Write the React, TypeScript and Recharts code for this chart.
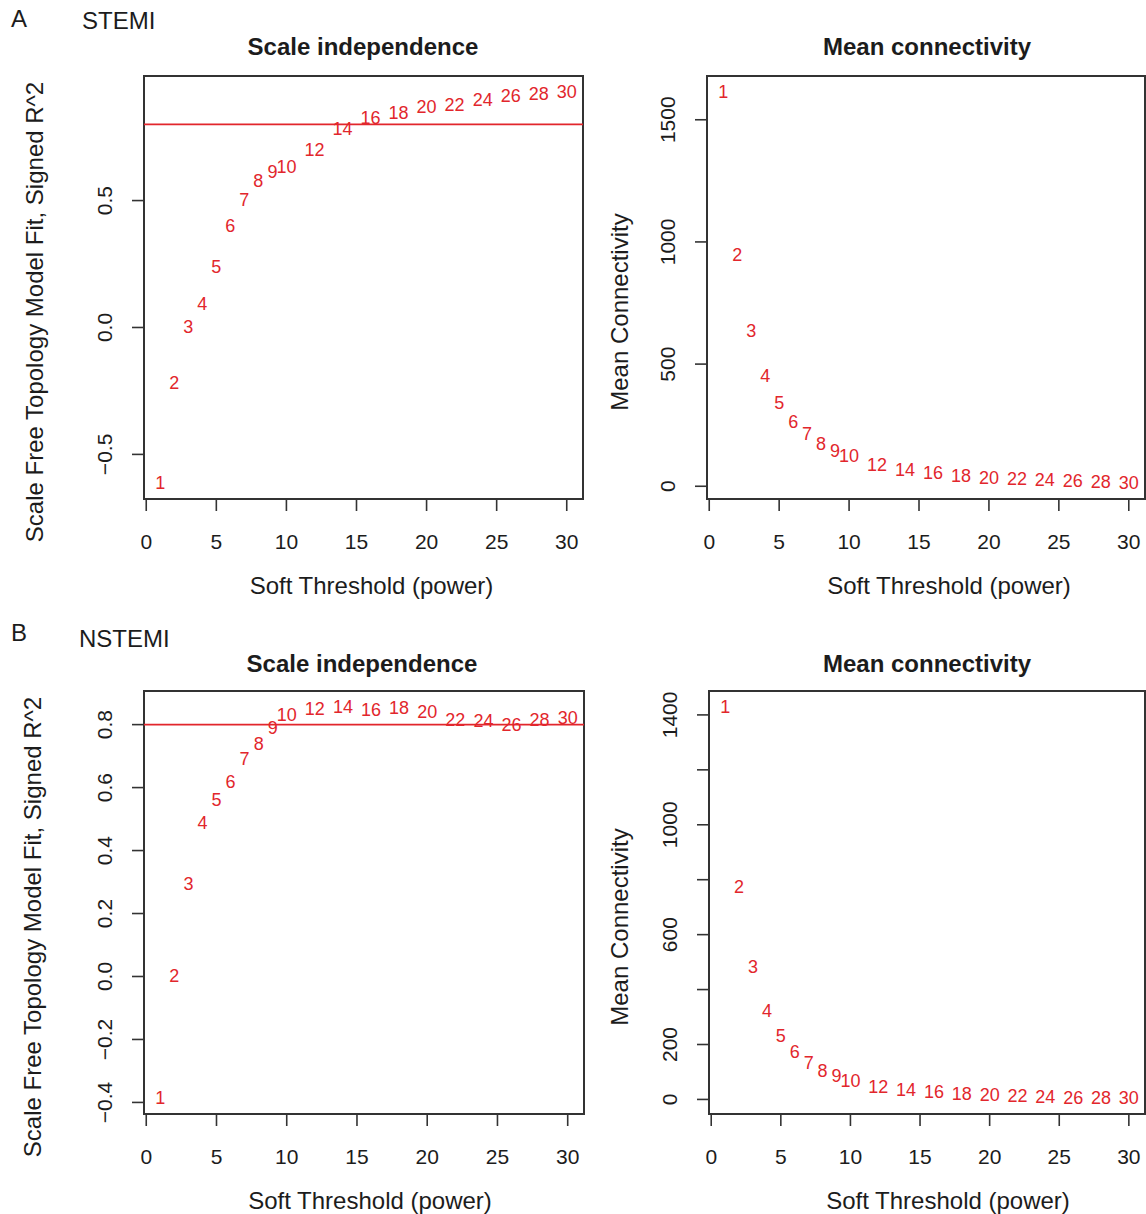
import React from 'react';
import { ScatterChart, Scatter, XAxis, YAxis, ReferenceLine, ReferenceArea } from 'recharts';

// ---------- data ----------
const powers = [1, 2, 3, 4, 5, 6, 7, 8, 9, 10, 12, 14, 16, 18, 20, 22, 24, 26, 28, 30];
const stemiScaleFit = [-0.614, -0.217, 0.0, 0.094, 0.24, 0.398, 0.504, 0.579, 0.614, 0.634, 0.7, 0.783, 0.827, 0.843, 0.87, 0.878, 0.898, 0.913, 0.921, 0.929];
const stemiMeanK = [1615, 948, 634, 450, 339, 262, 213, 172, 143, 123, 86, 65, 53, 41, 33, 29, 25, 20, 16, 12];
const nstemiScaleFit = [-0.387, 0.0, 0.295, 0.489, 0.562, 0.619, 0.692, 0.737, 0.79, 0.832, 0.851, 0.857, 0.848, 0.854, 0.841, 0.816, 0.813, 0.8, 0.816, 0.822];
const nstemiMeanK = [1430, 773, 482, 323, 232, 171, 132, 104, 84, 68, 47, 34, 28, 19, 16, 11, 10, 5, 4, 4];

const xTicks = [0, 5, 10, 15, 20, 25, 30];
const stemiFitTicks = [-0.5, 0, 0.5];
const stemiKTicks = [0, 500, 1000, 1500];
const nstemiFitTicks = [-0.4, -0.2, 0, 0.2, 0.4, 0.6, 0.8];
const nstemiKTicks = [0, 200, 400, 600, 800, 1000, 1200, 1400];
const nstemiKLabeled = [0, 200, 600, 1000, 1400];
const r2Cutoff = 0.8;

const xTitle = 'Soft Threshold (power)';
const fitTitle = 'Scale Free Topology Model Fit,  Signed R^2';
const kTitle = 'Mean Connectivity';

// ---------- style ----------
const RED = '#e2262c';
const INK = '#1c1c1c';
const FRAME = '#333333';
const FONT = '"Liberation Sans", Arial, Helvetica, sans-serif';

// R-style 4% axis extension
function rRange(v: number[]): [number, number] {
  const mn = Math.min(...v);
  const mx = Math.max(...v);
  const e = (mx - mn) * 0.04;
  return [mn - e, mx + e];
}
const xDomain = rRange(powers);

const fmtDec = (v: number) => (v < 0 ? '\u2212' : '') + Math.abs(v).toFixed(1);
const fmtInt = (v: number) => String(v);

const LabelDot = (props: any) => {
  const { cx, cy, payload } = props;
  if (cx == null || cy == null) return <g />;
  return (
    <text x={cx} y={cy} textAnchor="middle" dominantBaseline="central" fontSize={18} fill={RED} fontFamily={FONT}>
      {payload.power}
    </text>
  );
};

const XTick = (props: any) => {
  const { x, y, payload } = props;
  return (
    <text x={x} y={y} textAnchor="middle" dominantBaseline="central" fontSize={21} fill={INK} fontFamily={FONT}>
      {payload.value}
    </text>
  );
};

function makeYTick(fmt: (v: number) => string, shown?: number[]) {
  return (props: any) => {
    const { x, y, payload } = props;
    const v = payload.value;
    if (shown && !shown.includes(v)) return <g />;
    return (
      <text
        x={x}
        y={y}
        transform={`rotate(-90 ${x} ${y})`}
        textAnchor="middle"
        dominantBaseline="central"
        fontSize={21}
        fill={INK}
        fontFamily={FONT}
      >
        {fmt(v)}
      </text>
    );
  };
}

type Box = { left: number; top: number; right: number; bottom: number };
type PanelProps = {
  left: number;
  top: number;
  width: number;
  height: number;
  box: Box;
  values: number[];
  yTicks: number[];
  yShown?: number[];
  fmt: (v: number) => string;
  cutoff?: number;
  yTitle: string;
  yTitleX: number; // offset from chart left
  yTitleDY: number; // offset from plot centre
  xTitleDX: number; // offset from plot centre
};

function Panel(p: PanelProps) {
  const rows = powers.map((pw, i) => ({ power: pw, value: p.values[i] }));
  const yDomain = rRange(p.values);
  const mTop = p.box.top - p.top;
  const mRight = p.left + p.width - p.box.right;
  const yAxisW = p.box.left - p.left;
  const xAxisH = p.top + p.height - p.box.bottom;
  const YTick = makeYTick(p.fmt, p.yShown);

  const XLabel = (lp: any) => {
    const vb = lp.viewBox || { x: 0, y: 0, width: 0 };
    return (
      <text
        x={vb.x + vb.width / 2 + p.xTitleDX}
        y={vb.y + 86}
        textAnchor="middle"
        dominantBaseline="central"
        fontSize={24}
        fill={INK}
        fontFamily={FONT}
      >
        {xTitle}
      </text>
    );
  };
  const YLabel = (lp: any) => {
    const vb = lp.viewBox || { x: 0, y: 0, height: 0 };
    const cx = vb.x + p.yTitleX;
    const cy = vb.y + vb.height / 2 + p.yTitleDY;
    return (
      <text
        x={cx}
        y={cy}
        transform={`rotate(-90 ${cx} ${cy})`}
        textAnchor="middle"
        dominantBaseline="central"
        fontSize={24}
        fill={INK}
        fontFamily={FONT}
      >
        {p.yTitle}
      </text>
    );
  };

  return (
    <div style={{ position: 'absolute', left: p.left, top: p.top }}>
      <ScatterChart width={p.width} height={p.height} margin={{ top: mTop, right: mRight, left: 0, bottom: 0 }}>
        <XAxis
          type="number"
          dataKey="power"
          domain={xDomain}
          allowDataOverflow
          ticks={xTicks}
          interval={0}
          axisLine={false}
          tickLine={{ stroke: FRAME, strokeWidth: 1.6 }}
          tickSize={12}
          tickMargin={30}
          tick={<XTick />}
          height={xAxisH}
          label={<XLabel />}
        />
        <YAxis
          type="number"
          dataKey="value"
          domain={yDomain}
          allowDataOverflow
          ticks={p.yTicks}
          interval={0}
          axisLine={false}
          tickLine={{ stroke: FRAME, strokeWidth: 1.6 }}
          tickSize={12}
          tickMargin={27}
          tick={YTick}
          width={yAxisW}
          label={<YLabel />}
        />
        <ReferenceArea
          x1={xDomain[0]}
          x2={xDomain[1]}
          y1={yDomain[0]}
          y2={yDomain[1]}
          fill="none"
          fillOpacity={0}
          stroke={FRAME}
          strokeWidth={2}
          ifOverflow="visible"
        />
        {p.cutoff !== undefined && <ReferenceLine y={p.cutoff} stroke={RED} strokeWidth={1.8} />}
        <Scatter data={rows} shape={LabelDot} isAnimationActive={false} />
      </ScatterChart>
    </div>
  );
}

export default function App() {
  const txt = (x: number, y: number, s: string, size: number, bold = false, anchor: 'start' | 'middle' = 'middle') => (
    <text
      x={x}
      y={y}
      textAnchor={anchor}
      dominantBaseline="central"
      fontSize={size}
      fontWeight={bold ? 700 : 400}
      fill={INK}
      fontFamily={FONT}
    >
      {s}
    </text>
  );
  return (
    <div style={{ position: 'absolute', left: 0, top: 0, width: 1146, height: 1214, background: '#ffffff', overflow: 'hidden' }}>
      <svg width={1146} height={1214} style={{ position: 'absolute', left: 0, top: 0 }}>
        {txt(19, 18, 'A', 24)}
        {txt(82, 20, 'STEMI', 24, false, 'start')}
        {txt(363, 46, 'Scale independence', 24, true)}
        {txt(927, 46, 'Mean connectivity', 24, true)}
        {txt(19, 632, 'B', 24)}
        {txt(79, 638, 'NSTEMI', 24, false, 'start')}
        {txt(362, 663, 'Scale independence', 24, true)}
        {txt(927, 663, 'Mean connectivity', 24, true)}
      </svg>
      <Panel
        left={0}
        top={0}
        width={600}
        height={610}
        box={{ left: 144, top: 76, right: 583, bottom: 499 }}
        values={stemiScaleFit}
        yTicks={stemiFitTicks}
        fmt={fmtDec}
        cutoff={r2Cutoff}
        yTitle={fitTitle}
        yTitleX={34}
        yTitleDY={24.5}
        xTitleDX={8}
      />
      <Panel
        left={600}
        top={0}
        width={546}
        height={610}
        box={{ left: 707, top: 76, right: 1145, bottom: 499 }}
        values={stemiMeanK}
        yTicks={stemiKTicks}
        fmt={fmtInt}
        yTitle={kTitle}
        yTitleX={19}
        yTitleDY={24.5}
        xTitleDX={23}
      />
      <Panel
        left={0}
        top={610}
        width={600}
        height={604}
        box={{ left: 144, top: 691, right: 584, bottom: 1114 }}
        values={nstemiScaleFit}
        yTicks={nstemiFitTicks}
        fmt={fmtDec}
        cutoff={r2Cutoff}
        yTitle={fitTitle}
        yTitleX={32}
        yTitleDY={24.5}
        xTitleDX={6}
      />
      <Panel
        left={600}
        top={610}
        width={546}
        height={604}
        box={{ left: 709, top: 691, right: 1145, bottom: 1114 }}
        values={nstemiMeanK}
        yTicks={nstemiKTicks}
        yShown={nstemiKLabeled}
        fmt={fmtInt}
        yTitle={kTitle}
        yTitleX={19}
        yTitleDY={24.5}
        xTitleDX={21}
      />
    </div>
  );
}
